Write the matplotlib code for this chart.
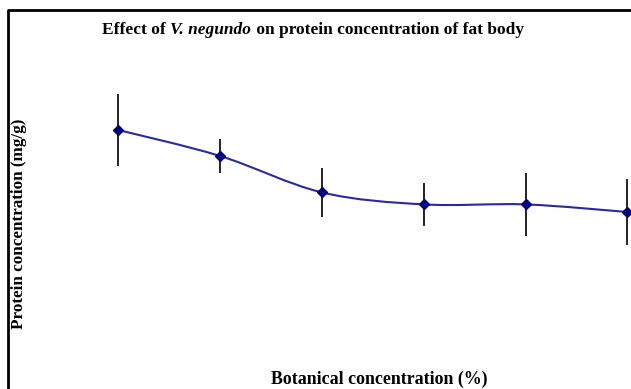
import matplotlib
matplotlib.use("Agg")
import matplotlib.pyplot as plt
import numpy as np
from matplotlib.path import Path
from matplotlib.patches import PathPatch
from matplotlib.lines import Line2D

# Data (arbitrary units; no tick labels in the reference)
concentration = [0, 1, 2, 3, 4, 5]
protein = [10.5, 9.2, 7.38, 6.78, 6.78, 6.4]
protein_err = [1.78, 0.83, 1.23, 1.08, 1.58, 1.65]

title_parts = [("Effect of ", 'normal'), ("V. negundo", 'italic'),
               (" on protein concentration of fat body", 'normal')]
xlabel_text = "Botanical concentration (%)"
ylabel_text = "Protein concentration (mg/g)"

W, H = 631, 389
fig = plt.figure(figsize=(W / 100, H / 100), dpi=100)
ax = fig.add_axes([0, 0, 1, 1])
ax.set_axis_off()
# pixel mapping: x_px = 118.3 + 101.8*x ; y_px(from top) = 340 - 20*y
ax.set_xlim(-118.3 / 101.8, (W - 118.3) / 101.8)
ax.set_ylim((340 - H) / 20, 340 / 20)

x = np.array(concentration, dtype=float)
y = np.array(protein, dtype=float)

# Smoothed line (Excel style Bezier through the data points)
pts = np.column_stack([x, y])
n = len(pts)
verts = [pts[0]]
codes = [Path.MOVETO]
for i in range(n - 1):
    p0 = pts[i - 1] if i > 0 else pts[i]
    p1 = pts[i]
    p2 = pts[i + 1]
    p3 = pts[i + 2] if i + 2 < n else pts[i + 1]
    c1 = p1 + (p2 - p0) / 6
    c2 = p2 - (p3 - p1) / 6
    verts += [c1, c2, p2]
    codes += [Path.CURVE4] * 3
ax.add_patch(PathPatch(Path(verts, codes), facecolor='none',
                       edgecolor='#2a2aa0', lw=1.5, clip_on=False, zorder=3))

ax.errorbar(x, y, yerr=protein_err, fmt='none', ecolor='#222222',
            elinewidth=1.4, capsize=0, zorder=2, clip_on=False)
ax.plot(x, y, linestyle='none', marker='D', markersize=5.5,
        color='#000080', zorder=4, clip_on=False)

# Border (top and left visible)
fig.add_artist(Line2D([8 / W, 8 / W, 1.01], [-0.01, 1 - 10.2 / H, 1 - 10.2 / H],
                      transform=fig.transFigure, color='black', lw=2))

# Title built from pieces (normal + italic)
fs_title = 12.5
renderer = fig.canvas.get_renderer()
texts = []
for s, style in title_parts:
    t = fig.text(0, 1 - 29.5 / H, s, ha='left', va='center', fontsize=fs_title,
                 family='Liberation Serif', weight='bold', style=style)
    texts.append(t)
widths = [t.get_window_extent(renderer).width for t in texts]
total = sum(widths)
xpos = 313 - total / 2
for t, w in zip(texts, widths):
    t.set_x(xpos / W)
    xpos += w

fig.text(379.5 / W, 1 - 379.5 / H, xlabel_text, ha='center', va='center',
         fontsize=12.9, family='Liberation Serif', weight='bold')
fig.text(19.5 / W, 1 - 224 / H, ylabel_text, ha='center', va='center',
         rotation=90, fontsize=12.3, family='Liberation Serif', weight='bold')

fig.savefig('out.png', dpi=100)
